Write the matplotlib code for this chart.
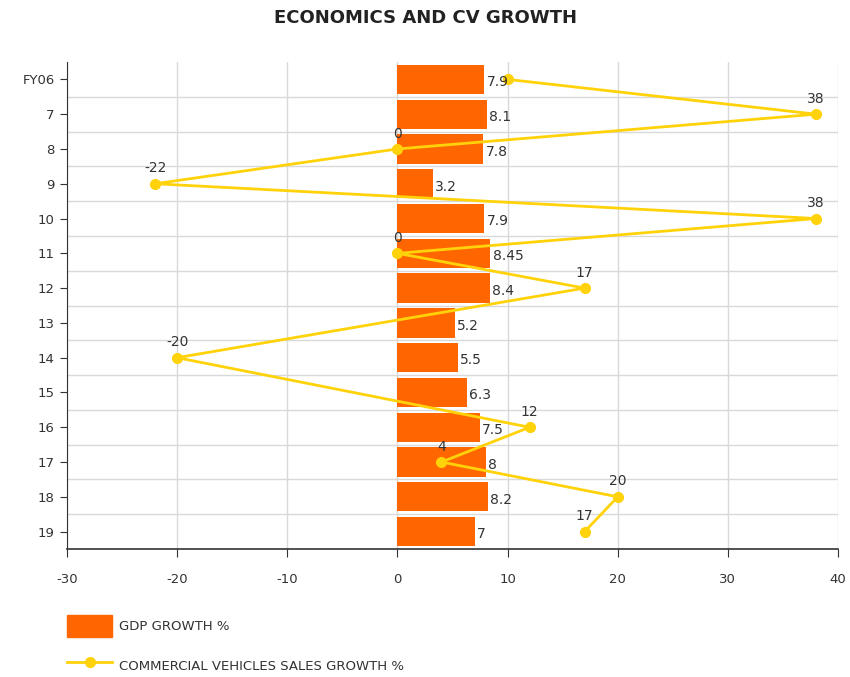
import matplotlib
matplotlib.use("Agg")
import matplotlib.pyplot as plt
import numpy as np
from matplotlib.lines import Line2D
from matplotlib.patches import Patch

categories = ["FY06", "7", "8", "9", "10", "11", "12", "13", "14", "15", "16", "17", "18", "19"]
gdp_growth = [7.9, 8.1, 7.8, 3.2, 7.9, 8.45, 8.4, 5.2, 5.5, 6.3, 7.5, 8, 8.2, 7]
cv_growth = [10, 38, 0, -22, 38, 0, 17, None, -20, None, 12, 4, 20, 17]
x_ticks = [-30, -20, -10, 0, 10, 20, 30, 40]

BAR = "#FF6600"
LINE = "#FFD20A"
TXT = "#333333"

fig = plt.figure(figsize=(8.5, 6.77), dpi=100)
ax = fig.add_axes([67/850, 1-549/677, (838-67)/850, (549-62)/677])

y = np.arange(len(categories))
ax.barh(y, gdp_growth, height=0.84, color=BAR, zorder=2)
for yi, v in zip(y, gdp_growth):
    ax.text(v + 0.2, yi + 0.08, f"{v:g}", ha="left", va="center", fontsize=10, color=TXT, zorder=4)

cy = [yi for yi, v in zip(y, cv_growth) if v is not None]
cx = [v for v in cv_growth if v is not None]
ax.plot(cx, cy, color=LINE, lw=2, marker="o", ms=7, zorder=3)
for i, (xv, yv) in enumerate(zip(cx, cy)):
    if i == 0:
        continue
    ax.annotate(f"{xv:g}", (xv, yv), xytext=(0, 6), textcoords="offset points",
                ha="center", va="bottom", fontsize=10, color=TXT, zorder=4)

ax.set_xlim(-30, 40)
ax.set_ylim(len(categories) - 0.5, -0.5)
ax.set_xticks(x_ticks)
ax.set_xticklabels([str(t) for t in x_ticks], fontsize=9.5, color=TXT)
ax.set_yticks(y)
ax.set_yticklabels(categories, fontsize=9.5, color=TXT)
ax.set_yticks(np.arange(0.5, len(categories) - 1, 1), minor=True)
ax.grid(True, axis="x", color="#d9d9d9", lw=1, zorder=0)
ax.grid(True, axis="y", which="minor", color="#d9d9d9", lw=1, zorder=0)
ax.tick_params(axis="y", which="minor", length=0)
ax.tick_params(axis="y", which="major", length=5, color=TXT, pad=4)
ax.tick_params(axis="x", length=6, color=TXT, pad=11)
for s in ["top", "right"]:
    ax.spines[s].set_visible(False)
ax.spines["left"].set_color(TXT)
ax.spines["bottom"].set_color(TXT)
ax.spines["bottom"].set_linewidth(1.2)

fig.text(0.5, 1-18/677, "ECONOMICS AND CV GROWTH", ha="center", va="center",
         fontsize=13, fontweight="bold", color="#222222")

handles = [Patch(facecolor=BAR, edgecolor=BAR),
           Line2D([0], [0], color=LINE, lw=2, marker="o", ms=7)]
leg = fig.legend(handles, ["GDP GROWTH %", "COMMERCIAL VEHICLES SALES GROWTH %"],
                 loc="upper left", bbox_to_anchor=(62/850, 1-610/677), frameon=False,
                 fontsize=9.5, handlelength=3.4, handleheight=2.2, labelspacing=1.3,
                 handletextpad=0.5, borderaxespad=0)
for t in leg.get_texts():
    t.set_color(TXT)

fig.savefig("out.png", dpi=100)
